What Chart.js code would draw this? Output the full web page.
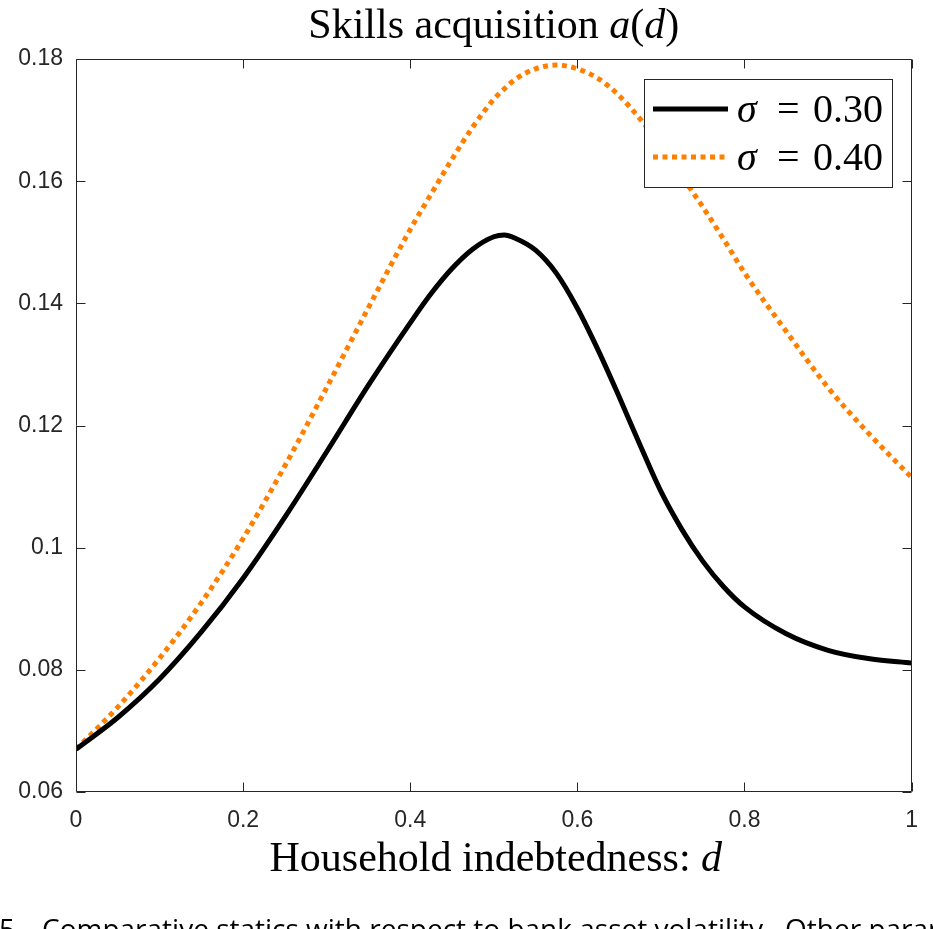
<!DOCTYPE html>
<html><head><meta charset="utf-8">
<script src="https://cdn.jsdelivr.net/npm/chart.js@4.4.1/dist/chart.umd.min.js"></script>
<style>html,body{margin:0;padding:0;background:#fff;}canvas{display:block;}</style>
</head><body>
<canvas id="c" width="933" height="929"></canvas>
<script>
// ---- data ----
const dValues  = [0, 0.05, 0.10, 0.15, 0.20, 0.25, 0.30, 0.35,
                  0.400, 0.425, 0.450, 0.475, 0.500, 0.5125, 0.525, 0.550, 0.575, 0.600, 0.625, 0.650, 0.675, 0.700, 0.725, 0.750, 0.775, 0.800,
                  0.85, 0.90, 0.95, 1.00];
const sigma030 = [0.0670, 0.0722, 0.0785, 0.0862, 0.0950, 0.1050, 0.1157, 0.1266,
                  0.1368, 0.1416, 0.1457, 0.1489, 0.1509, 0.1512, 0.1507, 0.1487, 0.1449, 0.1392, 0.1323, 0.1247, 0.1168, 0.1092, 0.1030, 0.0978, 0.0936, 0.0903,
                  0.0859, 0.0832, 0.0818, 0.0811];
const sigma040 = [0.0670, 0.0739, 0.0819, 0.0910, 0.1015, 0.1134, 0.1262, 0.1393,
                  0.1521, 0.1579, 0.1636, 0.1689, 0.1734, 0.1751, 0.1766, 0.1784, 0.1790, 0.1784, 0.1768, 0.1740, 0.1702, 0.1658, 0.1608, 0.1558, 0.1505, 0.1450,
                  0.1354, 0.1262, 0.1185, 0.1115];
const sigmaValues = ['0.30', '0.40'];
const xTicks = [0, 0.2, 0.4, 0.6, 0.8, 1];
const xTickLabels = ['0', '0.2', '0.4', '0.6', '0.8', '1'];
const yTicks = [0.06, 0.08, 0.10, 0.12, 0.14, 0.16, 0.18];
const yTickLabels = ['0.06', '0.08', '0.1', '0.12', '0.14', '0.16', '0.18'];
const titleText = 'Skills acquisition ';
const xAxisText = 'Household indebtedness: ';
const captionNum = '5.';
const captionText = 'Comparative statics with respect to bank asset volatility.  Other parameters';

const SERIF = '"Liberation Serif", "Times New Roman", serif';
const SANS = '"Liberation Sans", Arial, Helvetica, sans-serif';
const AXIS = '#262626';
const ORANGE = '#ff8000';

function drawRuns(ctx, runs, x, y, align) {
  const widths = [];
  let total = 0;
  runs.forEach(r => {
    ctx.font = (r.italic ? 'italic ' : '') + r.size + 'px ' + SERIF;
    const w = ctx.measureText(r.t).width;
    widths.push(w); total += w;
  });
  let cx = align === 'center' ? x - total / 2 : x;
  ctx.textAlign = 'left';
  ctx.textBaseline = 'alphabetic';
  runs.forEach((r, i) => {
    ctx.font = (r.italic ? 'italic ' : '') + r.size + 'px ' + SERIF;
    ctx.fillText(r.t, cx, y);
    cx += widths[i];
  });
}

const decor = {
  id: 'decor',
  afterDraw(chart) {
    const ctx = chart.ctx;
    const { left, right, top, bottom } = chart.chartArea;
    const xs = chart.scales.x, ys = chart.scales.y;
    ctx.save();
    // axes box
    ctx.strokeStyle = AXIS; ctx.lineWidth = 1;
    const L = Math.round(left) + 0.5, R = Math.round(right) - 0.5, T = Math.round(top) + 0.5, B = Math.round(bottom) - 0.5;
    ctx.beginPath();
    ctx.moveTo(L, T); ctx.lineTo(R, T); ctx.lineTo(R, B); ctx.lineTo(L, B); ctx.closePath();
    ctx.stroke();
    // inward ticks
    const tl = 9;
    ctx.beginPath();
    xTicks.forEach(v => {
      const p = Math.round(xs.getPixelForValue(v)) + 0.5;
      ctx.moveTo(p, B); ctx.lineTo(p, B - tl);
      ctx.moveTo(p, T); ctx.lineTo(p, T + tl);
    });
    yTicks.forEach(v => {
      const p = Math.round(ys.getPixelForValue(v)) + 0.5;
      ctx.moveTo(L, p); ctx.lineTo(L + tl, p);
      ctx.moveTo(R, p); ctx.lineTo(R - tl, p);
    });
    ctx.stroke();

    // title
    ctx.fillStyle = '#000';
    const cx = (left + right) / 2;
    drawRuns(ctx, [
      { t: titleText, size: 42 }, { t: 'a', size: 42, italic: true },
      { t: '(', size: 42 }, { t: 'd', size: 42, italic: true }, { t: ')', size: 42 }
    ], cx, 38, 'center');
    // x axis title
    drawRuns(ctx, [
      { t: xAxisText, size: 42 }, { t: 'd', size: 42, italic: true }
    ], cx + 2, 871, 'center');

    // legend
    const bx = 644, by = 79, bw = 248, bh = 108;
    ctx.fillStyle = '#fff';
    ctx.fillRect(bx, by, bw, bh);
    ctx.strokeStyle = AXIS; ctx.lineWidth = 1;
    ctx.strokeRect(bx + 0.5, by + 0.5, bw, bh);
    const rows = [109, 157];
    chart.data.datasets.forEach((ds, i) => {
      const y = rows[i];
      ctx.save();
      ctx.strokeStyle = ds.borderColor;
      ctx.lineWidth = ds.borderWidth;
      ctx.lineCap = 'butt';
      ctx.setLineDash(ds.borderDash || []);
      ctx.beginPath(); ctx.moveTo(653, y); ctx.lineTo(728, y); ctx.stroke();
      ctx.restore();
      ctx.fillStyle = '#000';
      drawRuns(ctx, [{ t: 'σ', size: 40, italic: true }], 737, y + 13, 'left');
      drawRuns(ctx, [{ t: '=', size: 40 }], 777, y + 13, 'left');
      drawRuns(ctx, [{ t: sigmaValues[i], size: 40 }], 813, y + 13, 'left');
    });

    // caption (cut off at the bottom of the picture)
    ctx.fillStyle = '#000';
    ctx.font = '28px "Open Sans", ' + SANS;
    ctx.textAlign = 'left'; ctx.textBaseline = 'alphabetic';
    ctx.fillText(captionNum, -1, 939);
    ctx.fillText(captionText, 42, 939);
    ctx.restore();
  }
};

const toPts = arr => dValues.map((d, i) => ({ x: d, y: arr[i] }));

new Chart(document.getElementById('c'), {
  type: 'line',
  data: {
    datasets: [
      { label: 'σ = ' + sigmaValues[0], data: toPts(sigma030), borderColor: '#000', borderWidth: 5,
        pointRadius: 0, cubicInterpolationMode: 'monotone', fill: false },
      { label: 'σ = ' + sigmaValues[1], data: toPts(sigma040), borderColor: ORANGE, borderWidth: 5,
        borderDash: [5, 4.5], borderCapStyle: 'butt', pointRadius: 0, cubicInterpolationMode: 'monotone', fill: false }
    ]
  },
  options: {
    responsive: false,
    devicePixelRatio: 1,
    animation: false,
    layout: { padding: { left: 0, top: 59, right: 19, bottom: 0 } },
    plugins: { legend: { display: false }, title: { display: false }, tooltip: { enabled: false } },
    scales: {
      x: {
        type: 'linear', min: 0, max: 1,
        afterBuildTicks: s => { s.ticks = xTicks.map(v => ({ value: v })); },
        afterFit: s => { s.height = 137; },
        grid: { drawOnChartArea: false, drawTicks: false },
        border: { display: false },
        ticks: { padding: 15, color: AXIS, font: { family: SANS, size: 23 },
          callback: (v, i) => xTickLabels[xTicks.indexOf(v)] ?? '' }
      },
      y: {
        type: 'linear', min: 0.06, max: 0.18,
        afterBuildTicks: s => { s.ticks = yTicks.map(v => ({ value: v })); },
        afterFit: s => { s.width = 76; },
        grid: { drawOnChartArea: false, drawTicks: false },
        border: { display: false },
        ticks: { padding: 13, color: AXIS, font: { family: SANS, size: 23 },
          callback: (v, i) => yTickLabels[i] ?? '' }
      }
    }
  },
  plugins: [decor]
});
</script>
</body></html>
